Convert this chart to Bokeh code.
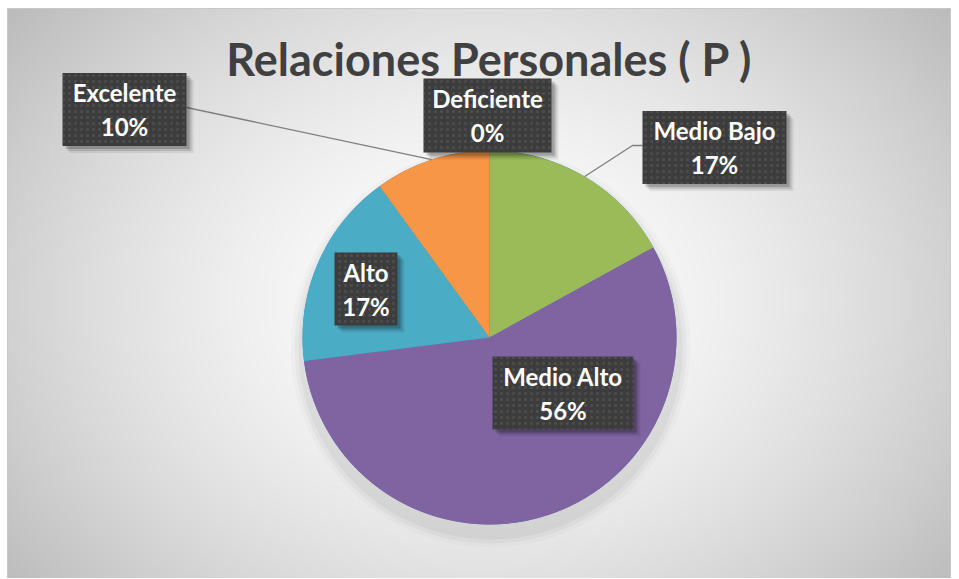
import numpy as np
from bokeh.plotting import figure
from bokeh.models import Range1d, ColumnDataSource
from bokeh.core.properties import value
from bokeh.embed import file_html
from bokeh.resources import INLINE

# ---- data ----
title_text = "Relaciones Personales ( P )"
categories = ["Deficiente", "Medio Bajo", "Medio Alto", "Alto", "Excelente"]
percents = [0, 17, 56, 17, 10]
colors = ["#4F81BD", "#9BBB59", "#8064A2", "#4BACC6", "#F79646"]

# ---- layout (image pixel coordinates) ----
W, H = 951, 578
def px(x): return x
def py(y): return H - y

cx, cy, R = px(489), py(337), 187
# label boxes: center x, center y, width, height (image coords)
box_cx = [487, 714, 562.5, 365.5, 124]
box_cy = [115, 147, 392.5, 288.5, 109]
box_w = [128, 144, 141, 63, 124]
box_h = [74, 73, 73, 73, 73]

p = figure(width=W, height=H, output_backend="svg", toolbar_location=None,
           x_range=Range1d(0, W), y_range=Range1d(0, H), min_border=0)
p.axis.visible = False
p.grid.visible = False
p.outline_line_color = None
p.background_fill_color = "#ffffff"
p.border_fill_color = "#ffffff"

# chart area with radial gradient background
x0, y0, x1, y1 = 7, 8, 950, 578
CW, CH = x1 - x0, y1 - y0
yy, xx = np.mgrid[0:CH, 0:CW]
gx, gy = 480 - x0, py(300)
d = np.sqrt(((xx - gx) / 560.0) ** 2 + ((yy - gy) / 430.0) ** 2)
lev = (255 - 60 * np.clip(d, 0, 1.2) ** 1.6).clip(0, 255).astype(np.uint8)
img = np.empty((CH, CW), dtype=np.uint32)
view = img.view(dtype=np.uint8).reshape((CH, CW, 4))
view[:, :, 0] = lev
view[:, :, 1] = lev
view[:, :, 2] = lev
view[:, :, 3] = 255
p.image_rgba(image=[img], x=px(x0), y=py(y1), dw=CW, dh=CH)
p.quad(left=px(x0), right=px(x1), top=py(y0), bottom=py(y1),
       fill_color=None, line_color="#c9c9c9", line_width=1)

# pie shadow (soft, mostly below)
for k, a in zip([200, 196, 192], [0.02, 0.03, 0.04]):
    p.circle(x=cx + 1, y=cy - 10, radius=k, fill_color="#000000", fill_alpha=a, line_color=None)

# wedges
frac = np.array(percents, dtype=float) / sum(percents)
cum = np.concatenate([[0], np.cumsum(frac)])
start = np.pi / 2 - 2 * np.pi * cum[:-1]
end = np.pi / 2 - 2 * np.pi * cum[1:]
src = ColumnDataSource(dict(start=start, end=end, color=colors))
p.wedge(x=cx, y=cy, radius=R, start_angle="start", end_angle="end",
        direction="clock", fill_color="color", line_color=None, source=src)

mid = (start + end) / 2
ex = cx + R * np.cos(mid)
ey = cy + R * np.sin(mid)

# leader lines
i_exc = categories.index("Excelente")
p.line(x=[px(box_cx[i_exc] + box_w[i_exc] / 2), ex[i_exc]],
       y=[py(box_cy[i_exc] - 2), ey[i_exc]], line_color="#7f7f7f", line_width=1.3)
i_mb = categories.index("Medio Bajo")
lx = px(box_cx[i_mb] - box_w[i_mb] / 2)
ly = py(box_cy[i_mb] - 2)
p.line(x=[ex[i_mb], lx - 10, lx], y=[ey[i_mb], ly, ly], line_color="#7f7f7f", line_width=1.3)

# label boxes
bx = np.array([px(v) for v in box_cx])
by = np.array([py(v) for v in box_cy])
bw = np.array(box_w)
bh = np.array(box_h)
for o, a in [(7, 0.08), (5, 0.12), (3, 0.18)]:
    p.rect(x=bx + o, y=by - o, width=bw, height=bh, fill_color="#000000",
           fill_alpha=a, line_color=None)
p.rect(x=bx, y=by, width=bw, height=bh, fill_color="#3c3c3c", line_color=None,
       hatch_pattern="dot", hatch_color="#707070", hatch_scale=6, hatch_alpha=0.35)

p.text(x=bx, y=by + 17, text=categories, text_align="center", text_baseline="middle",
       text_font=value("Lato"), text_font_style="bold", text_font_size="24px",
       text_color="#ffffff")
p.text(x=bx, y=by - 17, text=[f"{v}%" for v in percents], text_align="center",
       text_baseline="middle", text_font=value("Lato"), text_font_style="bold",
       text_font_size="24px", text_color="#ffffff")

# title
p.text(x=[px(489)], y=[py(58)], text=[title_text], text_align="center",
       text_baseline="middle", text_font=value("Lato"), text_font_style="bold",
       text_font_size="45px", text_color="#404040")

open("out.html", "w").write(file_html(p, INLINE))
